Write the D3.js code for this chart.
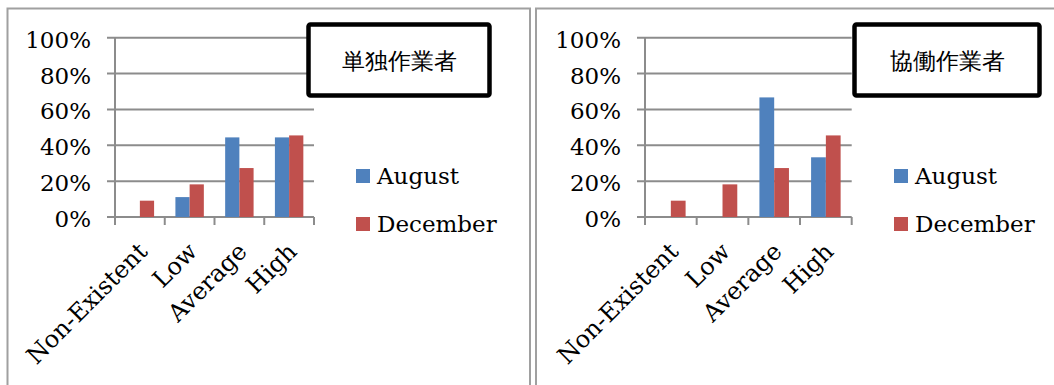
<!DOCTYPE html>
<html>
<head>
<meta charset="utf-8">
<script src="https://cdn.jsdelivr.net/npm/d3@7"></script>
<style>
  html, body { margin: 0; padding: 0; background: #fff; }
  svg { display: block; }
  text { font-family: "DejaVu Serif", serif; fill: #000; }
</style>
</head>
<body>
<svg id="chart" width="1054" height="385"></svg>
<script>
// Share of respondents per rating level, in percent
const categories = ["Non-Existent", "Low", "Average", "High"];
const seriesNames = ["August", "December"];
const soloAugust = [0, 11.1, 44.4, 44.4];
const soloDecember = [9.1, 18.2, 27.3, 45.5];
const collabAugust = [0, 0, 66.7, 33.3];
const collabDecember = [9.1, 18.2, 27.3, 45.5];
const yTicks = [0, 20, 40, 60, 80, 100];
const panelTitles = ["単独作業者", "協働作業者"];
const seriesColors = ["#4f81bd", "#c0504d"];

const svg = d3.select("#chart");

const panels = [
  {
    title: panelTitles[0], series: [soloAugust, soloDecember],
    frame: { x: 7.5, y: 8.5, w: 522.5, h: 400 },
    plot: { x0: 115, x1: 314, y0: 217, y1: 37.7 },
    legendX: 356,
    box: { x: 308.5, y: 24.5, w: 181, h: 71 }
  },
  {
    title: panelTitles[1], series: [collabAugust, collabDecember],
    frame: { x: 536, y: 8.5, w: 530, h: 400 },
    plot: { x0: 645, x1: 851.7, y0: 217, y1: 37.7 },
    legendX: 894,
    box: { x: 854.5, y: 24.5, w: 185, h: 71 }
  }
];

const gridColor = "#8c8c8c";

panels.forEach(p => {
  const g = svg.append("g");

  // outer frame
  g.append("rect")
    .attr("x", p.frame.x).attr("y", p.frame.y)
    .attr("width", p.frame.w).attr("height", p.frame.h)
    .attr("fill", "none").attr("stroke", "#a0a0a0").attr("stroke-width", 2);

  const x = d3.scaleBand().domain(categories)
    .range([p.plot.x0, p.plot.x1]).paddingInner(0).paddingOuter(0);
  const y = d3.scaleLinear().domain([0, 100]).range([p.plot.y0, p.plot.y1]);

  // horizontal gridlines
  g.append("g").selectAll("line").data(yTicks).join("line")
    .attr("x1", p.plot.x0 - 8).attr("x2", p.plot.x1)
    .attr("y1", d => y(d)).attr("y2", d => y(d))
    .attr("stroke", gridColor).attr("stroke-width", 2);

  // y axis line
  g.append("line")
    .attr("x1", p.plot.x0).attr("x2", p.plot.x0)
    .attr("y1", y(100)).attr("y2", y(0) + 8)
    .attr("stroke", gridColor).attr("stroke-width", 2);

  // x tick marks at category boundaries
  const bounds = categories.map(c => x(c)).concat([p.plot.x1]);
  g.append("g").selectAll("line").data(bounds).join("line")
    .attr("x1", d => d).attr("x2", d => d)
    .attr("y1", y(0)).attr("y2", y(0) + 8)
    .attr("stroke", gridColor).attr("stroke-width", 2);

  // y tick labels
  g.append("g").selectAll("text").data(yTicks).join("text")
    .attr("x", p.plot.x0 - 24)
    .attr("y", d => y(d) + 10)
    .attr("text-anchor", "end")
    .attr("font-size", 23)
    .text(d => d + "%");

  // bars: gap width 150% of a bar
  const bw = x.bandwidth() / 3.5;
  p.series.forEach((vals, si) => {
    g.append("g").selectAll("rect").data(vals).join("rect")
      .attr("x", (d, i) => x(categories[i]) + bw * 0.75 + si * bw)
      .attr("y", d => y(d))
      .attr("width", bw)
      .attr("height", d => y(0) - y(d))
      .attr("fill", seriesColors[si]);
  });

  // rotated category labels
  g.append("g").selectAll("text").data(categories).join("text")
    .attr("transform", d => `translate(${x(d) + x.bandwidth() / 2 + 9},${y(0) + 36}) rotate(-45)`)
    .attr("text-anchor", "end")
    .attr("font-size", 24)
    .text(d => d);

  // legend
  const lg = g.append("g");
  seriesNames.forEach((name, i) => {
    const ly = 169 + i * 48;
    lg.append("rect").attr("x", p.legendX).attr("y", ly)
      .attr("width", 14).attr("height", 14).attr("fill", seriesColors[i]);
    lg.append("text").attr("x", p.legendX + 21).attr("y", ly + 15)
      .attr("font-size", 23).text(name);
  });

  // title box
  g.append("rect")
    .attr("x", p.box.x).attr("y", p.box.y)
    .attr("width", p.box.w).attr("height", p.box.h)
    .attr("rx", 2).attr("ry", 2)
    .attr("fill", "#fff").attr("stroke", "#000").attr("stroke-width", 4.5);
  g.append("text")
    .attr("x", p.box.x + p.box.w / 2)
    .attr("y", p.box.y + p.box.h / 2 + 9)
    .attr("text-anchor", "middle")
    .attr("font-family", "'Noto Sans CJK JP', sans-serif")
    .attr("font-weight", 300)
    .attr("font-size", 23)
    .attr("fill", "#333")
    .text(p.title);
});
</script>
</body>
</html>
